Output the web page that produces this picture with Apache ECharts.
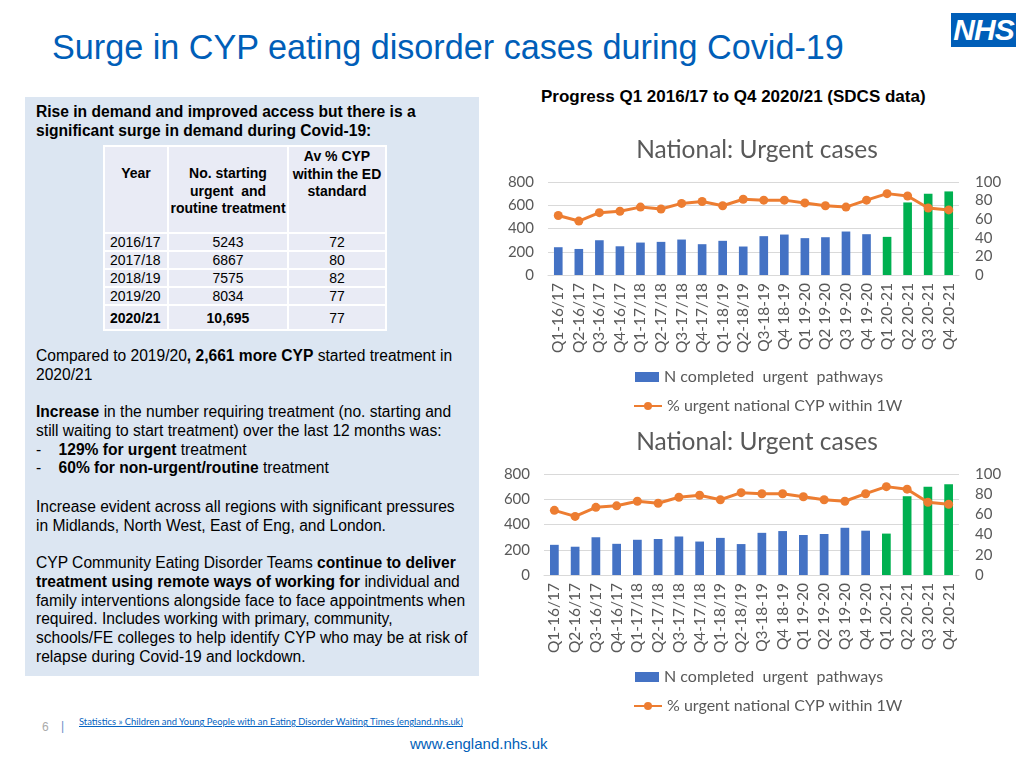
<!DOCTYPE html>
<html>
<head>
<meta charset="utf-8">
<script src="https://cdn.jsdelivr.net/npm/echarts@6/dist/echarts.min.js"></script>
<style>
  html, body { margin:0; padding:0; width:1024px; height:768px; background:#fff; overflow:hidden; }
  body { position:relative; font-family: "Liberation Sans", Arial, sans-serif; color:#000; }
  .abs { position:absolute; white-space:nowrap; }
  #title { left:52px; top:28px; font-size:34.2px; color:#005EB8; }
  #nhs { left:951px; top:13px; width:65px; height:34px; background:#005EB8; color:#fff; font-weight:bold; font-style:italic; font-size:30px; line-height:34px; text-align:center; letter-spacing:-1px; }
  #progress { left:541px; top:87px; font-size:17px; font-weight:bold; }
  #panel { left:25px; top:97px; width:454px; height:579px; background:#dce6f2; }
  .ptxt { font-size:15.6px; line-height:18.8px; }
  table { position:absolute; left:103px; top:145px; border-collapse:collapse; font-size:14px; }
  td { background:#e9ebf5; border:2px solid #fff; padding:0; }
  #footer6 { left:42px; top:720px; font-size:12px; color:#aaa; }
  #footbar { left:61px; top:719px; font-size:12px; color:#6b8fc9; }
  #link { left:79px; top:716px; font-size:9.4px; font-family: Lato, "Open Sans", sans-serif; color:#0563C1; text-decoration:underline; }
  #www { left:410px; top:735px; font-size:15px; color:#005EB8; }
  .chart { position:absolute; left:490px; width:534px; }
</style>
</head>
<body>
<div id="title" class="abs">Surge in CYP eating disorder cases during Covid-19</div>
<div id="nhs" class="abs">NHS</div>
<div id="progress" class="abs">Progress Q1 2016/17 to Q4 2020/21 (SDCS data)</div>
<div id="panel" class="abs"></div>
<div class="abs ptxt" style="left:36px;top:103px;font-weight:bold;">Rise in demand and improved access but there is a<br>significant surge in demand during Covid-19:</div>
<table>
  <tr style="height:87px;">
    <td style="width:62px;text-align:center;vertical-align:top;padding-top:18px;font-weight:bold;line-height:17.5px;">Year</td>
    <td style="width:118px;text-align:center;vertical-align:top;padding-top:18px;font-weight:bold;line-height:17.5px;">No. starting<br>urgent &nbsp;and<br>routine treatment</td>
    <td style="width:96px;text-align:center;vertical-align:top;padding-top:1px;font-weight:bold;line-height:17.5px;">Av % CYP<br>within the ED<br>standard</td>
  </tr>
  <tr style="height:18px;"><td style="padding-left:5px;">2016/17</td><td style="text-align:center;">5243</td><td style="text-align:center;">72</td></tr>
  <tr style="height:18px;"><td style="padding-left:5px;">2017/18</td><td style="text-align:center;">6867</td><td style="text-align:center;">80</td></tr>
  <tr style="height:18px;"><td style="padding-left:5px;">2018/19</td><td style="text-align:center;">7575</td><td style="text-align:center;">82</td></tr>
  <tr style="height:18px;"><td style="padding-left:5px;">2019/20</td><td style="text-align:center;">8034</td><td style="text-align:center;">77</td></tr>
  <tr style="height:25px;"><td style="padding-left:5px;font-weight:bold;">2020/21</td><td style="text-align:center;font-weight:bold;">10,695</td><td style="text-align:center;">77</td></tr>
</table>
<div class="abs ptxt" style="left:36px;top:347px;">Compared to 2019/20<b>, 2,661 more CYP</b> started treatment in<br>2020/21</div>
<div class="abs ptxt" style="left:36px;top:403px;"><b>Increase</b> in the number requiring treatment (no. starting and<br>still waiting to start treatment) over the last 12 months was:<br>-&nbsp;&nbsp;&nbsp;&nbsp;<b>129% for urgent</b> treatment<br>-&nbsp;&nbsp;&nbsp;&nbsp;<b>60% for non-urgent/routine</b> treatment</div>
<div class="abs ptxt" style="left:36px;top:498px;">Increase evident across all regions with significant pressures<br>in Midlands, North West, East of Eng, and London.</div>
<div class="abs ptxt" style="left:36px;top:554px;">CYP Community Eating Disorder Teams <b>continue to deliver</b><br><b>treatment using remote ways of working for</b> individual and<br>family interventions alongside face to face appointments when<br>required. Includes working with primary, community,<br>schools/FE colleges to help identify CYP who may be at risk of<br>relapse during Covid-19 and lockdown.</div>
<div id="footer6" class="abs">6</div>
<div id="footbar" class="abs">|</div>
<div id="link" class="abs">Statistics » Children and Young People with an Eating Disorder Waiting Times (england.nhs.uk)</div>
<div id="www" class="abs">www.england.nhs.uk</div>

<div id="c1" class="chart" style="top:130px;height:290px;"></div>
<div id="c2" class="chart" style="top:420px;height:300px;"></div>

<script>
// ---- data ----
var categories = ['Q1-16/17','Q2-16/17','Q3-16/17','Q4-16/17','Q1-17/18','Q2-17/18','Q3-17/18','Q4-17/18','Q1-18/19','Q2-18/19','Q3-18-19','Q4 18-19','Q1 19-20','Q2 19-20','Q3 19-20','Q4 19-20','Q1 20-21','Q2 20-21','Q3 20-21','Q4 20-21'];
var completedUrgent = [239,224,299,247,279,285,305,265,294,245,334,348,317,325,374,351,328,624,699,719];
var pctWithin1W = [64,58,67,68.5,73,71,77,79,74.5,81.5,80.5,80.5,77.5,74.5,73,80.5,87.5,85,72,70];
var leftTicks = [0,200,400,600,800];
var rightTicks = [0,20,40,60,80,100];
var chartTitle = 'National: Urgent cases';
var barName = 'N completed  urgent  pathways';
var lineName = '% urgent national CYP within 1W';
var covidTag = '20-21';

var BLUE = '#4472C4', GREEN = '#00B050', ORANGE = '#ED7D31', GREY = '#595959';
var FONT = 'Lato, "Open Sans", sans-serif';

function makeOption(cfg) {
  var barData = completedUrgent.map(function (v, i) {
    return { value: v, itemStyle: { color: categories[i].indexOf(covidTag) >= 0 ? GREEN : BLUE } };
  });
  var legendText = { fontFamily: FONT, fontSize: 16, color: GREY };
  return {
    animation: false,
    textStyle: { fontFamily: FONT },
    title: {
      text: chartTitle, left: 'center', top: cfg.titleTop,
      textStyle: { fontFamily: FONT, fontSize: 24.5, fontWeight: 'normal', color: GREY }
    },
    legend: [
      {
        left: 140, top: cfg.legendTop, itemWidth: 24, itemHeight: 10,
        textStyle: legendText, data: [{ name: barName, icon: 'rect' }]
      },
      {
        left: 138, top: cfg.legendTop + 29, itemWidth: 28, itemHeight: 10,
        textStyle: legendText, data: [{ name: lineName }]
      }
    ],
    grid: { left: cfg.gridLeft, right: 65, top: cfg.gridTop, height: cfg.gridHeight, containLabel: false },
    xAxis: {
      type: 'category', data: categories,
      axisLine: { lineStyle: { color: '#d9d9d9' } },
      axisTick: { show: false },
      axisLabel: { rotate: 90, interval: 0, margin: 8, fontFamily: FONT, fontSize: 15.5, color: GREY }
    },
    yAxis: [
      {
        type: 'value', min: leftTicks[0], max: leftTicks[leftTicks.length - 1], interval: leftTicks[1] - leftTicks[0],
        axisLine: { show: false }, axisTick: { show: false },
        axisLabel: { margin: 14, fontFamily: FONT, fontSize: 15, color: GREY },
        splitLine: { lineStyle: { color: '#d9d9d9' } }
      },
      {
        type: 'value', min: rightTicks[0], max: rightTicks[rightTicks.length - 1], interval: rightTicks[1] - rightTicks[0],
        axisLine: { show: false }, axisTick: { show: false },
        axisLabel: { margin: 16, fontFamily: FONT, fontSize: 15, color: GREY },
        splitLine: { show: false }
      }
    ],
    series: [
      { name: barName, type: 'bar', data: barData, barWidth: '42%', itemStyle: { color: BLUE } },
      {
        name: lineName, type: 'line', yAxisIndex: 1, data: pctWithin1W,
        symbol: 'circle', symbolSize: 9,
        lineStyle: { color: ORANGE, width: 3 }, itemStyle: { color: ORANGE }
      }
    ]
  };
}

echarts.init(document.getElementById('c1')).setOption(makeOption({
  titleTop: 3, gridLeft: 58, gridTop: 52, gridHeight: 93, legendTop: 234
}));
echarts.init(document.getElementById('c2')).setOption(makeOption({
  titleTop: 5, gridLeft: 54, gridTop: 54, gridHeight: 101, legendTop: 244
}));
</script>
</body>
</html>
